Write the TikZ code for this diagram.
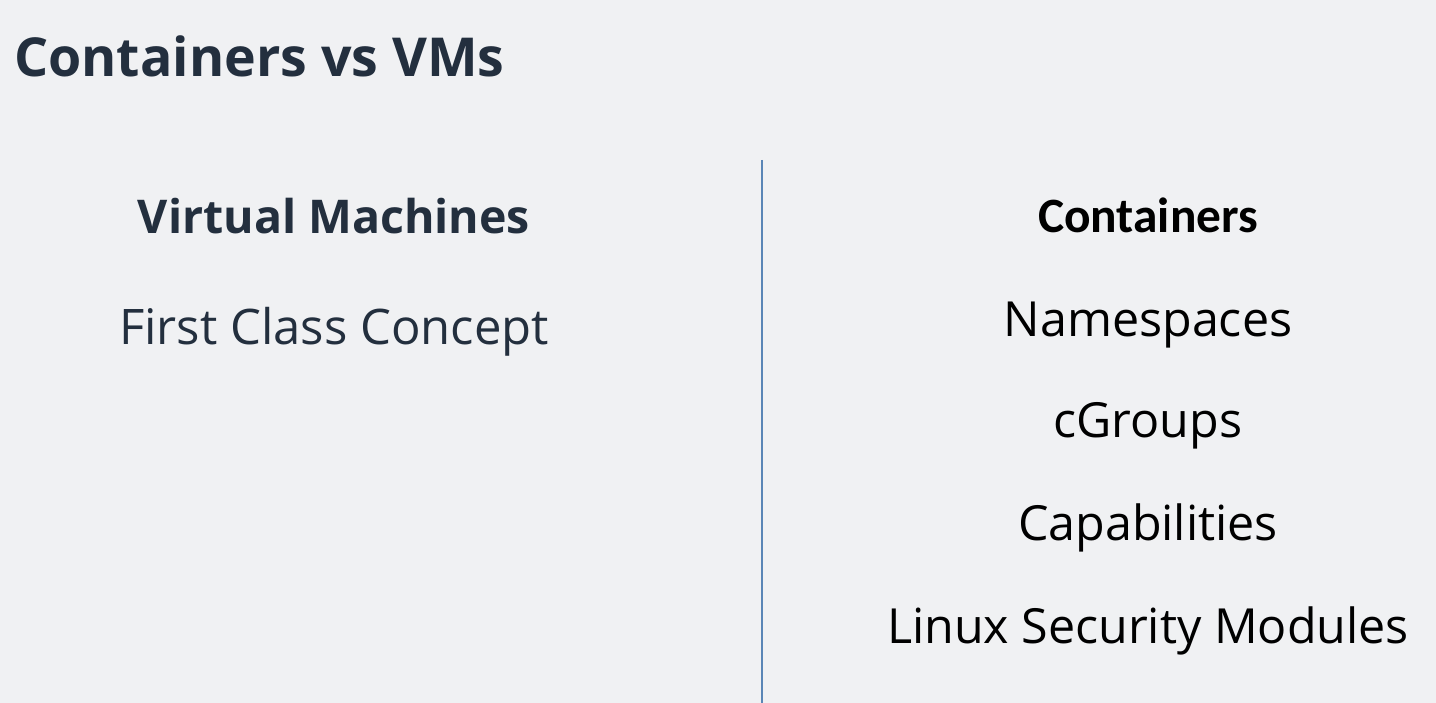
\documentclass[tikz,border=0pt]{standalone}
\usepackage{fontspec}
\setmainfont{Open Sans}
\newfontfamily\calfont{Carlito}
\definecolor{bgc}{HTML}{F0F1F3}
\definecolor{ink}{HTML}{232F3E}
\definecolor{divc}{HTML}{5A86B6}
\tikzset{
  ttl/.style={anchor=base, inner sep=0pt, text=ink, font=\fontsize{53.7}{58}\selectfont\bfseries},
  head/.style={anchor=base, inner sep=0pt, text=ink, font=\fontsize{46.5}{50}\selectfont\bfseries},
  lbl/.style={anchor=base, inner sep=0pt, text=ink, font=\fontsize{49}{53}\selectfont},
  rhead/.style={anchor=base, inner sep=0pt, text=black, font=\calfont\fontsize{49.4}{53}\selectfont\bfseries},
  ritem/.style={anchor=base, inner sep=0pt, text=black, font=\fontsize{48.4}{52}\selectfont},
}
\begin{document}
\begin{tikzpicture}[x=1pt,y=-1pt]
\fill[bgc] (0,0) rectangle (1436,703);
\useasboundingbox (0,0) rectangle (1436,703);
\node[ttl, anchor=base west] (title) at (14,77) {Containers vs VMs};
\coordinate (divtop) at (762,160);
\coordinate (divbot) at (762,703);
\draw[divc, line width=2.6pt] (divtop) -- (divbot);
\node[head] (vm) at (334,234) {Virtual Machines};
\node[lbl] (fcc) at (334,345) {First Class Concept};
\node[rhead] (ct) at (1148,233) {Containers};
\node[ritem] (ns) at (1148,337) {Namespaces};
\node[ritem] (cg) at (1148,438) {cGroups};
\node[ritem] (cap) at (1148,540) {Capabilities};
\node[ritem] (lsm) at (1148,643) {Linux Security Modules};
\end{tikzpicture}
\end{document}
